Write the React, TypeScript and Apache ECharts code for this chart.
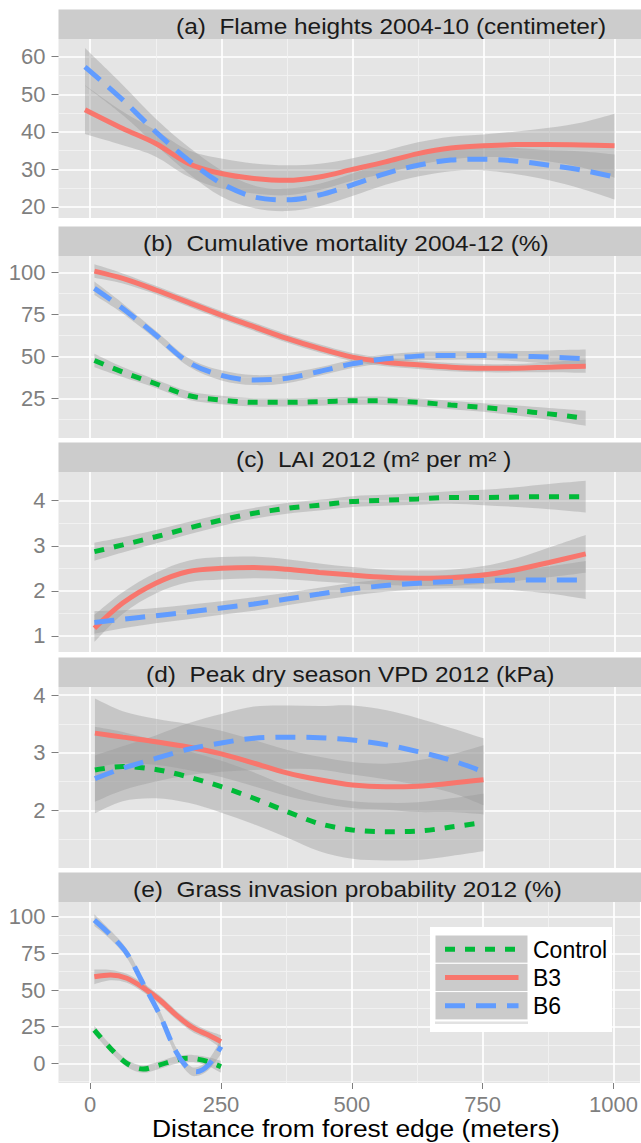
import React, { useEffect, useRef } from "react";
import * as echarts from "echarts";

// ---------- data ----------
const xTicks = [0, 250, 500, 750, 1000];
const xMinorTicks = [125, 375, 625, 875];

const groupNames = ["Control", "B3", "B6"];

// (a) Flame heights 2004-10 (centimeter)
const xFlame = [-10, 62, 125, 187, 250, 312, 375, 437, 500, 563, 625, 688, 750, 813, 875, 938, 1000];
const flameB3 = [45.9, 40.9, 36.9, 31.6, 28.9, 27.6, 27.1, 28.0, 30.0, 32.0, 34.2, 35.7, 36.3, 36.6, 36.6, 36.5, 36.3];
const flameB6 = [57.3, 48.5, 40.0, 32.5, 26.3, 22.7, 21.9, 23.2, 25.9, 28.9, 31.1, 32.5, 32.7, 32.2, 31.1, 29.8, 28.0];
const flameB3Band = [6.5, 4.5, 3.5, 3.5, 4, 4, 4, 3.5, 3, 3, 3, 3, 3, 3.5, 4.5, 6, 8.5];
const flameB6Band = [5, 4, 3.5, 3.5, 3.5, 3, 3, 3, 3, 3, 3, 3, 3, 3.5, 4, 5, 6];
const flameTicks = [20, 30, 40, 50, 60];
const flameMinor = [25, 35, 45, 55];

// (b) Cumulative mortality 2004-12 (%)
const xMort = [8, 62, 125, 187, 250, 312, 375, 437, 500, 563, 625, 688, 750, 813, 875, 945];
const mortControl = [47.6, 40.7, 33.7, 26.7, 24.0, 22.6, 22.6, 23.0, 23.5, 23.5, 22.6, 21.0, 19.5, 17.7, 15.7, 13.1];
const mortB3 = [101, 96.6, 89.7, 82.3, 74.7, 67.8, 60.8, 54.8, 49.6, 46.6, 45.0, 43.6, 43.0, 43.0, 43.6, 44.2];
const mortB6 = [90.7, 78.7, 62.8, 46.6, 38.7, 35.9, 37.0, 41.0, 45.6, 48.6, 50.2, 50.6, 50.6, 50.2, 49.6, 48.6];
const mortControlBand = [4, 3, 2.5, 2.5, 2.5, 2.5, 2.5, 2.5, 2.5, 2.5, 2.5, 2.5, 2.5, 3, 3.5, 4.5];
const mortB3Band = [4, 3, 2.5, 2.5, 2.5, 2.5, 2.5, 2.5, 2.5, 2.5, 2.5, 2.5, 2.5, 2.5, 3, 4];
const mortB6Band = [4, 3, 2.5, 2.5, 3, 3, 3, 2.5, 2.5, 2.5, 2.5, 2.5, 2.5, 3, 4, 5.5];
const mortTicks = [25, 50, 75, 100];
const mortMinor = [12.5, 37.5, 62.5, 87.5];

// (c) LAI 2012
const xLai = [8, 62, 125, 187, 250, 312, 375, 437, 500, 563, 625, 688, 750, 813, 875, 945];
const laiControl = [2.87, 3.02, 3.2, 3.39, 3.57, 3.72, 3.83, 3.9, 3.98, 4.01, 4.04, 4.07, 4.07, 4.08, 4.09, 4.09];
const laiB3 = [1.17, 1.73, 2.17, 2.43, 2.5, 2.52, 2.48, 2.41, 2.35, 2.3, 2.28, 2.29, 2.35, 2.47, 2.63, 2.82];
const laiB6 = [1.3, 1.37, 1.45, 1.53, 1.62, 1.71, 1.82, 1.93, 2.04, 2.12, 2.17, 2.21, 2.23, 2.24, 2.24, 2.24];
const laiControlBand = [0.2, 0.17, 0.15, 0.14, 0.13, 0.12, 0.12, 0.12, 0.12, 0.12, 0.13, 0.14, 0.17, 0.22, 0.28, 0.35];
const laiB3Band = [0.3, 0.24, 0.23, 0.24, 0.25, 0.24, 0.22, 0.2, 0.18, 0.17, 0.17, 0.18, 0.2, 0.25, 0.33, 0.42];
const laiB6Band = [0.25, 0.2, 0.17, 0.16, 0.15, 0.15, 0.14, 0.14, 0.14, 0.14, 0.14, 0.15, 0.18, 0.23, 0.3, 0.42];
const laiTicks = [1, 2, 3, 4];
const laiMinor = [1.5, 2.5, 3.5];

// (d) Peak dry season VPD 2012 (kPa)
const xVpd = [9, 62, 125, 187, 250, 312, 375, 437, 500, 563, 625, 688, 750];
const vpdControl = [2.7, 2.76, 2.71, 2.58, 2.41, 2.21, 1.98, 1.77, 1.66, 1.63, 1.64, 1.71, 1.79];
const vpdB3 = [3.34, 3.27, 3.19, 3.1, 2.98, 2.82, 2.65, 2.53, 2.44, 2.41, 2.42, 2.47, 2.53];
const vpdB6 = [2.55, 2.73, 2.9, 3.06, 3.17, 3.25, 3.27, 3.26, 3.22, 3.14, 3.02, 2.87, 2.67];
const vpdControlBand = [0.75, 0.6, 0.5, 0.45, 0.45, 0.45, 0.45, 0.48, 0.5, 0.5, 0.5, 0.5, 0.5];
const vpdB3Band = [0.6, 0.45, 0.4, 0.4, 0.4, 0.4, 0.4, 0.4, 0.4, 0.4, 0.45, 0.5, 0.6];
const vpdB6Band = [0.4, 0.38, 0.4, 0.45, 0.5, 0.55, 0.55, 0.55, 0.6, 0.6, 0.58, 0.56, 0.58];
const vpdTicks = [2, 3, 4];
const vpdMinor = [1.5, 2.5, 3.5];

// (e) Grass invasion probability 2012 (%)
const xGrass = [8, 39, 70, 101, 133, 164, 187, 203, 226, 250];
const grassControl = [22.7, 10.2, 0, -3.9, -1.1, 2.3, 3.4, 3.0, 1.1, -2.3];
const grassB3 = [59, 60.2, 58, 51.6, 43.2, 33, 26.5, 23, 19.3, 14.8];
const grassB6 = [97.7, 87.5, 75, 54.5, 33, 8, -3.4, -5.7, -1.1, 11.4];
const grassControlBand = [3, 2.5, 2.5, 2.5, 2.5, 2.5, 2.5, 2.5, 3, 4];
const grassB3Band = [5, 3.5, 3, 3, 3, 3, 3, 3, 3, 4.5];
const grassB6Band = [4, 3, 3, 3, 3, 3, 3, 3, 3.5, 5];
const grassTicks = [0, 25, 50, 75, 100];
const grassMinor = [-12.5, 12.5, 37.5, 62.5, 87.5];

// ---------- styles / layout ----------
const FONT = "'Liberation Sans', Arial, Helvetica, sans-serif";
const COLORS: Record<string, string> = { Control: "#00BA38", B3: "#F8766D", B6: "#619CFF" };
const DASHES: Record<string, any> = { Control: [10, 10], B3: "solid", B6: [20, 11] };
const RIBBON = "rgba(153,153,153,0.4)";
const GRID_LEFT = 58.5;
const GRID_WIDTH = 584;
const X_MIN = -60.5;
const X_MAX = 1050.5;

type Group = { name: string; y: number[]; band: number[] };
type Panel = {
  title: string; titleX: number; top: number; bottom: number;
  yMin: number; yMax: number; ticks: number[]; minor: number[];
  x: number[]; groups: Group[];
};

const panels: Panel[] = [
  {
    title: "(a)  Flame heights 2004-10 (centimeter)", titleX: 176, top: 39, bottom: 218,
    yMin: 17.07, yMax: 64.71, ticks: flameTicks, minor: flameMinor, x: xFlame,
    groups: [
      { name: "B3", y: flameB3, band: flameB3Band },
      { name: "B6", y: flameB6, band: flameB6Band },
    ],
  },
  {
    title: "(b)  Cumulative mortality 2004-12 (%)", titleX: 143, top: 256, bottom: 438,
    yMin: 1.3, yMax: 110, ticks: mortTicks, minor: mortMinor, x: xMort,
    groups: [
      { name: "Control", y: mortControl, band: mortControlBand },
      { name: "B3", y: mortB3, band: mortB3Band },
      { name: "B6", y: mortB6, band: mortB6Band },
    ],
  },
  {
    title: "(c)  LAI 2012 (m\u00B2 per m\u00B2 )", titleX: 236, top: 472, bottom: 652,
    yMin: 0.645, yMax: 4.636, ticks: laiTicks, minor: laiMinor, x: xLai,
    groups: [
      { name: "Control", y: laiControl, band: laiControlBand },
      { name: "B3", y: laiB3, band: laiB3Band },
      { name: "B6", y: laiB6, band: laiB6Band },
    ],
  },
  {
    title: "(d)  Peak dry season VPD 2012 (kPa)", titleX: 146, top: 687, bottom: 868,
    yMin: 1.0, yMax: 4.14, ticks: vpdTicks, minor: vpdMinor, x: xVpd,
    groups: [
      { name: "Control", y: vpdControl, band: vpdControlBand },
      { name: "B3", y: vpdB3, band: vpdB3Band },
      { name: "B6", y: vpdB6, band: vpdB6Band },
    ],
  },
  {
    title: "(e)  Grass invasion probability 2012 (%)", titleX: 133, top: 902, bottom: 1083,
    yMin: -13.4, yMax: 110, ticks: grassTicks, minor: grassMinor, x: xGrass,
    groups: [
      { name: "Control", y: grassControl, band: grassControlBand },
      { name: "B3", y: grassB3, band: grassB3Band },
      { name: "B6", y: grassB6, band: grassB6Band },
    ],
  },
];

// Catmull-Rom spline through pixel points (rendering only)
function crSegments(pts: number[][]): string {
  let d = "";
  for (let i = 0; i < pts.length - 1; i++) {
    const p0 = pts[i - 1] || pts[i];
    const p1 = pts[i];
    const p2 = pts[i + 1];
    const p3 = pts[i + 2] || p2;
    const c1x = p1[0] + (p2[0] - p0[0]) / 6;
    const c1y = p1[1] + (p2[1] - p0[1]) / 6;
    const c2x = p2[0] - (p3[0] - p1[0]) / 6;
    const c2y = p2[1] - (p3[1] - p1[1]) / 6;
    d += ` C${c1x.toFixed(2)},${c1y.toFixed(2)} ${c2x.toFixed(2)},${c2y.toFixed(2)} ${p2[0].toFixed(2)},${p2[1].toFixed(2)}`;
  }
  return d;
}

const plainNumber = (v: number) => String(v);

function buildOption() {
  const n = panels.length;
  const grid: any[] = [];
  const xAxis: any[] = [];
  const yAxis: any[] = [];
  const series: any[] = [];
  const graphics: any[] = [];

  panels.forEach((p) => {
    grid.push({
      left: GRID_LEFT, top: p.top, width: GRID_WIDTH, height: p.bottom - p.top,
      show: true, backgroundColor: "#E5E5E5", borderWidth: 0,
    });
  });

  // minor axes first (drawn underneath)
  panels.forEach((p, i) => {
    xAxis.push({
      type: "value", gridIndex: i, position: "top", min: X_MIN, max: X_MAX,
      axisLine: { show: false, onZero: false },
      axisTick: { show: false, customValues: xMinorTicks },
      axisLabel: { show: false, customValues: xMinorTicks },
      splitLine: { show: true, lineStyle: { color: "#F2F2F2", width: 0.9 } },
    });
    yAxis.push({
      type: "value", gridIndex: i, position: "right", min: p.yMin, max: p.yMax,
      axisLine: { show: false, onZero: false },
      axisTick: { show: false, customValues: p.minor },
      axisLabel: { show: false, customValues: p.minor },
      splitLine: { show: true, lineStyle: { color: "#F2F2F2", width: 0.9 } },
    });
  });
  panels.forEach((p, i) => {
    const last = i === n - 1;
    xAxis.push({
      type: "value", gridIndex: i, position: "bottom", min: X_MIN, max: X_MAX,
      axisLine: { show: false, onZero: false },
      axisTick: { show: last, customValues: xTicks, length: 6, lineStyle: { color: "#7F7F7F", width: 1 } },
      axisLabel: {
        show: last, customValues: xTicks, margin: 10, color: "#7F7F7F",
        fontSize: 22, fontFamily: FONT, hideOverlap: false, formatter: plainNumber,
      },
      splitLine: { show: true, lineStyle: { color: "#FFFFFF", width: 1.7 } },
    });
    yAxis.push({
      type: "value", gridIndex: i, position: "left", min: p.yMin, max: p.yMax,
      axisLine: { show: false, onZero: false },
      axisTick: { show: true, customValues: p.ticks, length: 7, lineStyle: { color: "#7F7F7F", width: 1 } },
      axisLabel: {
        show: true, customValues: p.ticks, margin: 13, color: "#7F7F7F",
        fontSize: 22, fontFamily: FONT, hideOverlap: false, formatter: plainNumber,
      },
      splitLine: { show: true, lineStyle: { color: "#FFFFFF", width: 1.7 } },
    });
  });

  panels.forEach((p, i) => {
    const ax = n + i;
    // ribbons
    p.groups.forEach((g) => {
      const xs = p.x;
      series.push({
        type: "custom",
        name: g.name + " band",
        coordinateSystem: "cartesian2d",
        xAxisIndex: ax,
        yAxisIndex: ax,
        silent: true,
        z: 1,
        clip: true,
        data: [[xs[0], g.y[0]]],
        renderItem: (params: any, api: any) => {
          const up = xs.map((xv, k) => api.coord([xv, g.y[k] + g.band[k]]));
          const lo = xs.map((xv, k) => api.coord([xv, g.y[k] - g.band[k]])).reverse();
          const d =
            `M${up[0][0]},${up[0][1]}` + crSegments(up) +
            ` L${lo[0][0]},${lo[0][1]}` + crSegments(lo) + " Z";
          return { type: "path", shape: { pathData: d }, style: { fill: RIBBON }, silent: true };
        },
      });
    });
    // lines
    p.groups.forEach((g) => {
      series.push({
        type: "line",
        name: g.name,
        xAxisIndex: ax,
        yAxisIndex: ax,
        data: p.x.map((xv, k) => [xv, g.y[k]]),
        smooth: 0.33,
        symbol: "none",
        silent: true,
        z: 3,
        lineStyle: { color: COLORS[g.name], width: 5, type: DASHES[g.name], cap: "butt" },
      });
    });

    // strip
    graphics.push({
      type: "rect", silent: true, z: 1,
      shape: { x: GRID_LEFT, y: p.top - 29.5, width: GRID_WIDTH, height: 29.5 },
      style: { fill: "#CCCCCC" },
    });
    graphics.push({
      type: "text", silent: true, z: 2, x: p.titleX, y: p.top - 13, scaleX: 1.11,
      style: {
        text: p.title, fill: "#1A1A1A", fontSize: 22, fontFamily: FONT,
        align: "left", verticalAlign: "middle",
      },
    });
  });

  // x-axis title
  graphics.push({
    type: "text", silent: true, x: 152, y: 1128.5, scaleX: 1.1,
    style: {
      text: "Distance from forest edge (meters)", fill: "#000000", fontSize: 24,
      fontFamily: FONT, align: "left", verticalAlign: "middle",
    },
  });

  // legend (inside panel e)
  graphics.push({
    type: "rect", silent: true, z: 50,
    shape: { x: 430, y: 927, width: 182, height: 105 },
    style: { fill: "#FFFFFF" },
  });
  const keyTop = 935;
  const keyH = 28.3;
  groupNames.forEach((name, k) => {
    const ky = keyTop + k * keyH;
    graphics.push({
      type: "rect", silent: true, z: 51,
      shape: { x: 435, y: ky, width: 93, height: keyH },
      style: { fill: "#CBCBCB", stroke: "#FFFFFF", lineWidth: 1 },
    });
    graphics.push({
      type: "line", silent: true, z: 52,
      shape: { x1: 445, y1: ky + keyH / 2, x2: 518.5, y2: ky + keyH / 2 },
      style: {
        stroke: COLORS[name], lineWidth: 5, lineCap: "butt",
        lineDash: Array.isArray(DASHES[name]) ? DASHES[name] : null,
      },
    });
    graphics.push({
      type: "text", silent: true, z: 52, x: 533, y: ky + keyH / 2 + 0.5,
      style: {
        text: name, fill: "#000000", fontSize: 23, fontFamily: FONT,
        align: "left", verticalAlign: "middle",
      },
    });
  });
  graphics.push({
    type: "rect", silent: true, z: 51,
    shape: { x: 435, y: keyTop + 3 * keyH + 1.5, width: 93, height: 2.5 },
    style: { fill: "#E2E2E2" },
  });

  return {
    animation: false,
    backgroundColor: "#FFFFFF",
    grid,
    xAxis,
    yAxis,
    series,
    graphic: { elements: graphics },
  };
}

export default function App() {
  const ref = useRef<HTMLDivElement>(null);
  useEffect(() => {
    if (!ref.current) return;
    const chart = echarts.init(ref.current, null, { renderer: "svg" });
    chart.setOption(buildOption() as any);
    return () => chart.dispose();
  }, []);
  return (
    <div
      ref={ref}
      style={{ position: "absolute", left: 0, top: 0, width: 641, height: 1143, background: "#FFFFFF" }}
    />
  );
}
